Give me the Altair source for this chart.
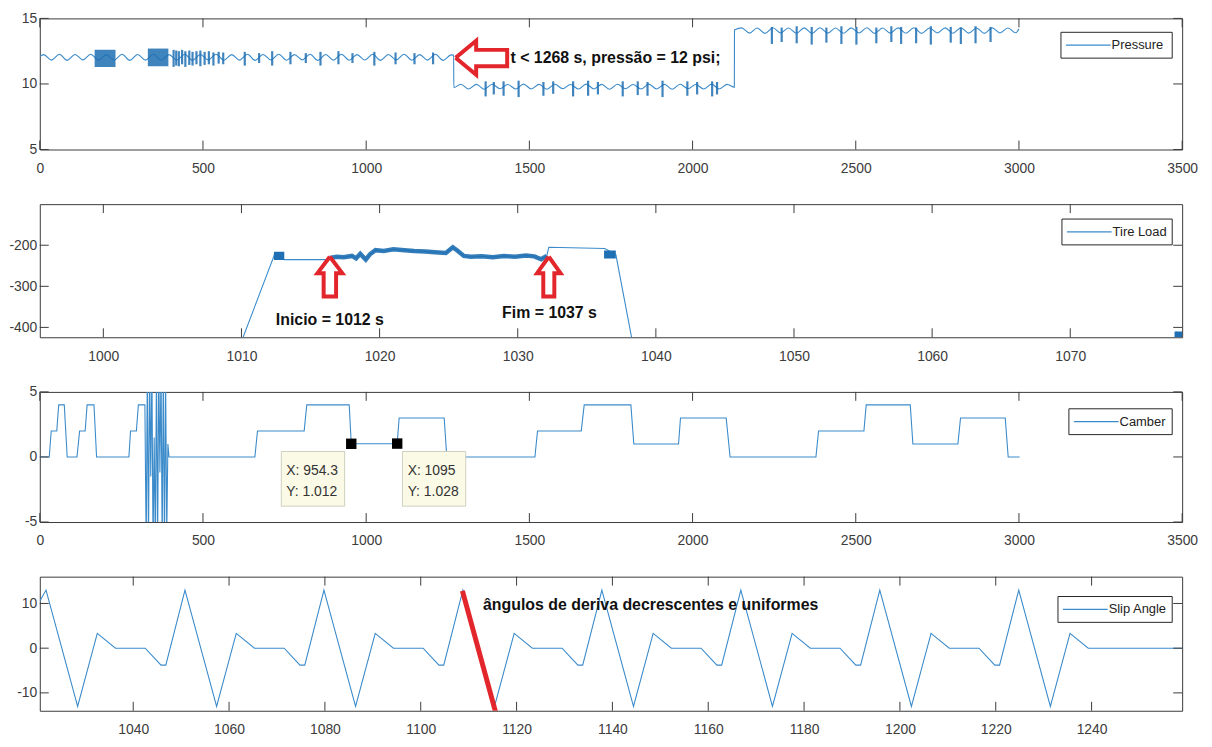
import altair as alt
import pandas as pd

BLUE = "#3B8BCB"
DARK = "#1E6FB3"
RED = "#E2262B"
AXC = "#3C3C3C"
TICKF = "Liberation Sans, Arial, sans-serif"
BOLD = "Liberation Sans, Arial, sans-serif"
W = 1150

# ---------------- Panel 1: Pressure ----------------
pres_t_a = [0, 12, 36, 60, 84, 108, 132, 156, 180, 204, 228, 252, 276, 300, 324, 348, 372, 396, 420, 444,
            468, 492, 516, 540, 564, 588, 612, 636, 660, 684, 708, 732, 756, 780, 804, 828, 852, 876, 900,
            924, 948, 972, 996, 1020, 1044, 1068, 1092, 1116, 1140, 1164, 1188, 1212, 1236, 1260, 1268]
pres_v_a = [12.10, 12.24, 11.82, 12.26, 11.80, 12.25, 11.84, 12.27, 11.81, 12.24, 11.83, 12.26, 11.80, 12.25,
            11.82, 12.27, 11.81, 12.24, 11.83, 12.26, 11.80, 12.25, 11.84, 12.27, 11.81, 12.24, 11.82, 12.26,
            11.80, 12.25, 11.83, 12.27, 11.81, 12.24, 11.84, 12.26, 11.80, 12.25, 11.82, 12.27, 11.81, 12.24,
            11.83, 12.26, 11.80, 12.25, 11.84, 12.27, 11.81, 12.24, 11.82, 12.26, 11.80, 12.22, 12.20]
pres_t_b = [1268.5, 1290, 1314, 1338, 1362, 1386, 1410, 1434, 1458, 1482, 1506, 1530, 1554, 1578, 1602, 1626,
            1650, 1674, 1698, 1722, 1746, 1770, 1794, 1818, 1842, 1866, 1890, 1914, 1938, 1962, 1986, 2010,
            2034, 2058, 2082, 2106, 2128]
pres_v_b = [9.72, 9.98, 9.62, 9.97, 9.60, 9.98, 9.63, 9.96, 9.61, 9.99, 9.62, 9.97, 9.60, 9.98, 9.63, 9.96,
            9.61, 9.99, 9.62, 9.97, 9.60, 9.98, 9.63, 9.96, 9.61, 9.99, 9.62, 9.97, 9.60, 9.98, 9.63, 9.96,
            9.61, 9.99, 9.62, 9.97, 9.75]
pres_t_c = [2128.5, 2131, 2150, 2174, 2198, 2222, 2246, 2270, 2294, 2318, 2342, 2366, 2390, 2414, 2438, 2462,
            2486, 2510, 2534, 2558, 2582, 2606, 2630, 2654, 2678, 2702, 2726, 2750, 2774, 2798, 2822, 2846,
            2870, 2894, 2918, 2942, 2966, 2990, 3000]
pres_v_c = [14.12, 14.15, 14.28, 13.88, 14.27, 13.86, 14.29, 13.89, 14.27, 13.87, 14.28, 13.86, 14.29, 13.88,
            14.27, 13.87, 14.28, 13.89, 14.29, 13.86, 14.27, 13.88, 14.28, 13.87, 14.29, 13.86, 14.27, 13.89,
            14.28, 13.87, 14.29, 13.88, 14.27, 13.86, 14.28, 13.89, 14.27, 13.90, 14.20]

# dense noise blocks
blk_start = [168, 331]
blk_end = [232, 394]
blk_lo = [11.30, 11.35]
blk_hi = [12.60, 12.70]

# noise spike clusters
spk_t = [410, 418, 426, 436, 446, 458, 468, 480, 492, 505, 518, 532, 548, 562, 628, 672, 712, 768, 815, 860,
         915, 958, 1025, 1090, 1148, 1205,
         1366, 1391, 1421, 1467, 1543, 1573, 1634, 1680, 1710, 1786, 1832, 1862, 1908, 1984, 2014, 2060, 2075,
         2243, 2273, 2319, 2365, 2410, 2456, 2502, 2563, 2609, 2639, 2685, 2730, 2791, 2822, 2867, 2913]
spk_lo = [11.3, 11.4, 11.35, 11.5, 11.3, 11.45, 11.4, 11.5, 11.35, 11.45, 11.5, 11.4, 11.55, 11.5, 11.4, 11.6,
          11.4, 11.5, 11.6, 11.4, 11.5, 11.6, 11.4, 11.5, 11.5, 11.5,
          9.05, 9.2, 9.1, 9.0, 9.1, 9.25, 9.05, 9.1, 9.2, 9.05, 9.15, 9.1, 9.0, 9.1, 9.2, 9.05, 9.2,
          13.05, 13.2, 13.1, 13.0, 13.15, 13.05, 13.0, 13.1, 13.2, 13.05, 13.1, 13.0, 13.15, 13.05, 13.1, 13.2]
spk_hi = [12.6, 12.55, 12.5, 12.6, 12.5, 12.55, 12.45, 12.5, 12.55, 12.45, 12.5, 12.4, 12.45, 12.4, 12.45, 12.35,
          12.5, 12.45, 12.35, 12.45, 12.5, 12.35, 12.45, 12.4, 12.35, 12.4,
          10.2, 10.15, 10.2, 10.25, 10.15, 10.2, 10.2, 10.25, 10.15, 10.2, 10.2, 10.15, 10.25, 10.2, 10.15, 10.2, 10.15,
          14.35, 14.3, 14.4, 14.35, 14.3, 14.4, 14.35, 14.3, 14.4, 14.35, 14.3, 14.4, 14.35, 14.3, 14.4, 14.35]

# red hollow arrow (pointing left) and annotation
arr1_t = [1274, 1337, 1337, 1432, 1432, 1337, 1337, 1274]
arr1_v = [12.0, 13.3, 12.6, 12.6, 11.35, 11.35, 10.7, 12.0]
note1 = "t < 1268 s, pressão = 12 psi;"
note1_t = 1442
note1_v = 12.0

# ---------------- Panel 2: Tire Load ----------------
band_t = [1016.4, 1016.9, 1017.4, 1018.0, 1018.3, 1018.6, 1019.0, 1019.3, 1019.7, 1020.3, 1021.0, 1021.8,
          1022.5, 1023.3, 1024.0, 1024.8, 1025.3, 1025.6, 1026.1, 1026.6, 1027.4, 1028.2, 1029.0, 1029.8,
          1030.6, 1031.2, 1031.7, 1032.1]
band_v = [-231, -228, -229, -226, -232, -221, -235, -222, -212, -214, -210, -212, -214, -215, -217, -219,
          -205, -212, -226, -228, -227, -229, -226, -228, -225, -227, -234, -226]
load_t_head = [1009.6, 1012.4, 1013.1, 1016.3]
load_v_head = [-470, -222, -235, -235]
load_t_tail = [1032.25, 1036.3, 1037.1, 1038.5, 1077.2, 1077.7, 1078.1]
load_v_tail = [-205, -208, -222, -470, -470, -412, -418]
load_blk_a = [1012.35, 1036.25, 1077.55]
load_blk_b = [1013.1, 1037.1, 1078.1]
load_blk_lo = [-236, -232, -424]
load_blk_hi = [-216, -213, -410]

arrA_t = [1016.4, 1017.3, 1016.85, 1016.85, 1015.95, 1015.95, 1015.5, 1016.4]
arrB_t = [1032.25, 1033.1, 1032.65, 1032.65, 1031.85, 1031.85, 1031.4, 1032.25]
arr_up_v = [-228, -268, -268, -325, -325, -268, -268, -228]
note2_text = ["Inicio = 1012 s", "Fim = 1037 s"]
note2_t = [1016.4, 1032.3]
note2_v = [-381, -364]

# ---------------- Panel 3: Camber ----------------
cam_t = [0, 29, 35, 52, 58, 75, 84, 114, 122, 139, 145, 166, 174, 273, 278, 296, 302, 322,
         326, 329.5, 333, 336.5, 340, 343.5, 347, 350.5, 354, 357.5, 361, 364.5, 368, 371.5, 375, 378.5,
         382, 385.5, 389, 392.5,
         396, 659, 667, 810, 818, 948, 954.3, 1095, 1101, 1239, 1247, 1517, 1525, 1659, 1668, 1811, 1820,
         1957, 1963, 2103, 2115, 2378, 2386, 2525, 2532, 2667, 2675, 2813, 2821, 2958, 2967, 3002]
cam_v = [0, 0, 2, 2, 4, 4, 0, 0, 2, 2, 4, 4, 0, 0, 2, 2, 4, 4,
         -7, 7, -7, 7, -1.5, 7, -7, 1.5, -7, 7, -7, 7, -1.2, 7, -7, 7, -7, 6, -6, 1,
         0, 0, 2, 2, 4, 4, 1.012, 1.028, 3, 3, 0, 0, 2, 2, 4, 4, 1, 1, 3, 3, 0, 0, 2, 2, 4, 4,
         1, 1, 3, 3, 0, 0]
tip_t = [954.3, 1095]
tip_v = [1.012, 1.028]
tipbox_x1 = [740, 1111]
tipbox_x2 = [934, 1305]
tipbox_y1 = [0.42, 0.42]
tipbox_y2 = [-3.78, -3.78]
tiptext = ["X: 954.3", "Y: 1.012", "X: 1095", "Y: 1.028"]
tiptext_t = [755, 755, 1127, 1127]
tiptext_v = [-1.06, -2.67, -1.06, -2.67]

# ---------------- Panel 4: Slip Angle ----------------
slip_t = [1020.5, 1021.8, 1028.4, 1032.5, 1036.3, 1042.5, 1045.8, 1046.8,
          1050.8, 1057.4, 1061.5, 1065.3, 1071.5, 1074.8, 1075.8,
          1079.8, 1086.4, 1090.5, 1094.3, 1100.5, 1103.8, 1104.8,
          1108.8, 1115.4, 1119.5, 1123.3, 1129.5, 1132.8, 1133.8,
          1137.8, 1144.4, 1148.5, 1152.3, 1158.5, 1161.8, 1162.8,
          1166.8, 1173.4, 1177.5, 1181.3, 1187.5, 1190.8, 1191.8,
          1195.8, 1202.4, 1206.5, 1210.3, 1216.5, 1219.8, 1220.8,
          1224.8, 1231.4, 1235.5, 1239.3, 1258.9]
slip_v = [10.5, 13, -13, 3.3, 0, 0, -3.8, -3.8,
          13, -13, 3.3, 0, 0, -3.8, -3.8,
          13, -13, 3.3, 0, 0, -3.8, -3.8,
          13, -13, 3.3, 0, 0, -3.8, -3.8,
          13, -13, 3.3, 0, 0, -3.8, -3.8,
          13, -13, 3.3, 0, 0, -3.8, -3.8,
          13, -13, 3.3, 0, 0, -3.8, -3.8,
          13, -13, 3.3, 0, 0]
redline_t = [1108.7, 1115.7]
redline_v = [12.8, -14.6]
note4 = "ângulos de deriva decrescentes e uniformes"
note4_t = 1113
note4_v = 9.6


# ---------------- helpers ----------------
def scales(xdom, ydom, xticks, yticks):
    xsc = alt.Scale(domain=xdom, nice=False, zero=False)
    ysc = alt.Scale(domain=ydom, nice=False, zero=False)
    common = dict(title=None, ticks=False, tickSize=0, domain=False, grid=False, labelFlush=False,
                  labelOverlap=False, labelFont=TICKF, labelFontSize=14, labelColor=AXC,
                  labelExpr="toString(datum.value)")
    xax = alt.Axis(values=xticks, labelPadding=12, **common)
    yax = alt.Axis(values=yticks, labelPadding=3, **common)
    return xsc, ysc, xax, yax


def enc(field, sc, ax, ch):
    if ch == "x":
        return alt.X(field, type="quantitative", scale=sc, axis=ax)
    return alt.Y(field, type="quantitative", scale=sc, axis=ax)


def tick_layers(xsc, ysc, xax, yax, xticks, yticks, h):
    xt = pd.DataFrame({"tv": xticks})
    yt = pd.DataFrame({"tv": yticks})
    rx = alt.Chart(xt).mark_rule(color=AXC, strokeWidth=1)
    ry = alt.Chart(yt).mark_rule(color=AXC, strokeWidth=1)
    return [
        rx.encode(x=enc("tv", xsc, xax, "x"), y=alt.value(h), y2=alt.value(h - 9)),
        rx.encode(x=enc("tv", xsc, xax, "x"), y=alt.value(0), y2=alt.value(9)),
        ry.encode(y=enc("tv", ysc, yax, "y"), x=alt.value(0), x2=alt.value(9)),
        ry.encode(y=enc("tv", ysc, yax, "y"), x=alt.value(W), x2=alt.value(W - 9)),
    ]


def legend_layers(name, lx, ly):
    d = pd.DataFrame({"name": [name]})
    base = alt.Chart(d)
    return [
        base.mark_rect(fill="white", stroke="#262626", strokeWidth=1).encode(
            x=alt.value(lx), x2=alt.value(1140), y=alt.value(ly), y2=alt.value(ly + 26)),
        base.mark_rule(color=BLUE, strokeWidth=1.2).encode(
            x=alt.value(lx + 5), x2=alt.value(lx + 50), y=alt.value(ly + 13)),
        base.mark_text(align="left", baseline="middle", font=TICKF, fontSize=13, color="#222222").encode(
            x=alt.value(lx + 51), y=alt.value(ly + 13), text="name:N"),
    ]


def main_line(df, xsc, ysc, xax, yax, interp="linear"):
    return alt.Chart(df).mark_line(strokeWidth=1.1, clip=True, color=BLUE, interpolate=interp).encode(
        x=enc("t", xsc, xax, "x"), y=enc("v", ysc, yax, "y"), order=alt.Order("i:Q"))


def poly(df, xsc, ysc, xax, yax, width):
    return alt.Chart(df).mark_line(color=RED, strokeWidth=width, strokeJoin="miter", clip=True).encode(
        x=enc("t", xsc, xax, "x"), y=enc("v", ysc, yax, "y"), order=alt.Order("i:Q"), detail="g:N")


def note(df, xsc, ysc, xax, yax, align):
    return alt.Chart(df).mark_text(align=align, baseline="middle", font=BOLD, fontWeight="bold",
                                   fontSize=16, color="#111111").encode(
        x=enc("t", xsc, xax, "x"), y=enc("v", ysc, yax, "y"), text="txt:N")


# ---------------- Panel 1 ----------------
H1 = 132
x1 = [0, 500, 1000, 1500, 2000, 2500, 3000, 3500]
y1 = [5, 10, 15]
xsc, ysc, xax, yax = scales([0, 3500], [5, 15], x1, y1)
pt = pres_t_a + pres_t_b + pres_t_c
pv = pres_v_a + pres_v_b + pres_v_c
df1 = pd.DataFrame({"t": pt, "v": pv, "i": range(len(pt))})
blk = pd.DataFrame({"a": blk_start, "b": blk_end, "lo": blk_lo, "hi": blk_hi})
spk = pd.DataFrame({"t": spk_t, "lo": spk_lo, "hi": spk_hi})
arr1 = pd.DataFrame({"t": arr1_t, "v": arr1_v, "i": range(len(arr1_t)), "g": "a"})
n1 = pd.DataFrame({"t": [note1_t], "v": [note1_v], "txt": [note1]})

p1 = alt.layer(
    main_line(df1, xsc, ysc, xax, yax, "monotone"),
    alt.Chart(blk).mark_rect(color=DARK, opacity=0.85).encode(
        x=enc("a", xsc, xax, "x"), x2="b", y=enc("lo", ysc, yax, "y"), y2="hi"),
    alt.Chart(spk).mark_rule(color=DARK, strokeWidth=2.2, opacity=0.85).encode(
        x=enc("t", xsc, xax, "x"), y=enc("lo", ysc, yax, "y"), y2="hi"),
    poly(arr1, xsc, ysc, xax, yax, 4),
    note(n1, xsc, ysc, xax, yax, "left"),
    *tick_layers(xsc, ysc, xax, yax, x1, y1, H1),
    *legend_layers("Pressure", 1028, 14),
).properties(width=W, height=H1)

# ---------------- Panel 2 ----------------
H2 = 134
x2 = [1000, 1010, 1020, 1030, 1040, 1050, 1060, 1070]
y2 = [-400, -300, -200]
xsc, ysc, xax, yax = scales([995.4, 1078.1], [-424, -100], x2, y2)
lt = load_t_head + band_t + load_t_tail
lv = load_v_head + band_v + load_v_tail
df2 = pd.DataFrame({"t": lt, "v": lv, "i": range(len(lt))})
band = pd.DataFrame({"t": band_t, "v": band_v})
lblk = pd.DataFrame({"a": load_blk_a, "b": load_blk_b, "lo": load_blk_lo, "hi": load_blk_hi})
arr2 = pd.DataFrame({"t": arrA_t + arrB_t, "v": arr_up_v + arr_up_v,
                     "i": list(range(8)) + list(range(8)), "g": ["a"] * 8 + ["b"] * 8})
n2 = pd.DataFrame({"t": note2_t, "v": note2_v, "txt": note2_text})

p2 = alt.layer(
    main_line(df2, xsc, ysc, xax, yax),
    alt.Chart(band).mark_line(color=DARK, strokeWidth=4.5, clip=True, opacity=0.9).encode(
        x=enc("t", xsc, xax, "x"), y=enc("v", ysc, yax, "y")),
    alt.Chart(lblk).mark_rect(color=DARK, clip=True).encode(
        x=enc("a", xsc, xax, "x"), x2="b", y=enc("lo", ysc, yax, "y"), y2="hi"),
    poly(arr2, xsc, ysc, xax, yax, 4),
    note(n2, xsc, ysc, xax, yax, "center"),
    *tick_layers(xsc, ysc, xax, yax, x2, y2, H2),
    *legend_layers("Tire Load", 1029, 15),
).properties(width=W, height=H2)

# ---------------- Panel 3 ----------------
H3 = 131
x3 = [0, 500, 1000, 1500, 2000, 2500, 3000, 3500]
y3 = [-5, 0, 5]
xsc, ysc, xax, yax = scales([0, 3500], [-5, 5], x3, y3)
df3 = pd.DataFrame({"t": cam_t, "v": cam_v, "i": range(len(cam_t))})
mk = pd.DataFrame({"t": tip_t, "v": tip_v})
box = pd.DataFrame({"a": tipbox_x1, "b": tipbox_x2, "lo": tipbox_y1, "hi": tipbox_y2})
tt = pd.DataFrame({"t": tiptext_t, "v": tiptext_v, "txt": tiptext})

p3 = alt.layer(
    main_line(df3, xsc, ysc, xax, yax),
    alt.Chart(box).mark_rect(fill="#FBFAE6", stroke="#CFCFBF", strokeWidth=1).encode(
        x=enc("a", xsc, xax, "x"), x2="b", y=enc("lo", ysc, yax, "y"), y2="hi"),
    alt.Chart(tt).mark_text(align="left", baseline="middle", font=TICKF, fontSize=14, color="#333333").encode(
        x=enc("t", xsc, xax, "x"), y=enc("v", ysc, yax, "y"), text="txt:N"),
    alt.Chart(mk).mark_point(shape="square", filled=True, size=110, color="black", opacity=1).encode(
        x=enc("t", xsc, xax, "x"), y=enc("v", ysc, yax, "y")),
    *tick_layers(xsc, ysc, xax, yax, x3, y3, H3),
    *legend_layers("Camber", 1036, 17),
).properties(width=W, height=H3)

# ---------------- Panel 4 ----------------
H4 = 135
x4 = [1040, 1060, 1080, 1100, 1120, 1140, 1160, 1180, 1200, 1220, 1240]
y4 = [-10, 0, 10]
xsc, ysc, xax, yax = scales([1020.5, 1258.9], [-14, 16], x4, y4)
df4 = pd.DataFrame({"t": slip_t, "v": slip_v, "i": range(len(slip_t))})
rl = pd.DataFrame({"t": redline_t, "v": redline_v, "i": [0, 1], "g": "r"})
n4 = pd.DataFrame({"t": [note4_t], "v": [note4_v], "txt": [note4]})

p4 = alt.layer(
    main_line(df4, xsc, ysc, xax, yax),
    poly(rl, xsc, ysc, xax, yax, 5),
    note(n4, xsc, ysc, xax, yax, "left"),
    *tick_layers(xsc, ysc, xax, yax, x4, y4, H4),
    *legend_layers("Slip Angle", 1025, 20),
).properties(width=W, height=H4)

chart = alt.vconcat(p1, p2, p3, p4, spacing=55, bounds="flush").resolve_scale(
    x="independent", y="independent"
).properties(
    padding={"left": 0, "top": 0, "right": 5, "bottom": 5}, background="white"
).configure_view(stroke="#3A3A3A", strokeWidth=1)

chart.save("out.html", embed_options={"renderer": "svg", "actions": False})
